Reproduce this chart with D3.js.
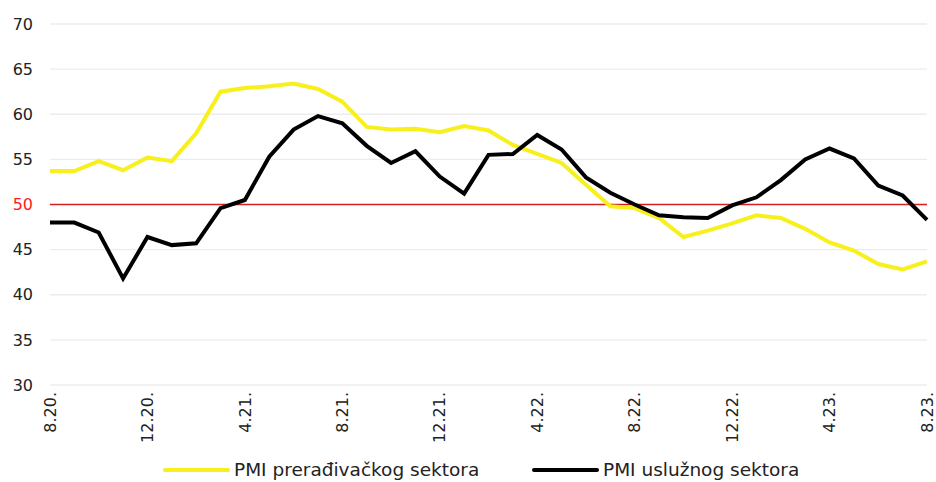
<!DOCTYPE html>
<html>
<head>
<meta charset="utf-8">
<script src="https://cdn.jsdelivr.net/npm/d3@7/dist/d3.min.js"></script>
<style>
  body { margin: 0; background: #fff; }
  svg text { font-family: "DejaVu Sans", sans-serif; fill: #222; }
</style>
</head>
<body>
<script>
var months = ['8.20.', '9.20.', '10.20.', '11.20.', '12.20.', '1.21.', '2.21.', '3.21.', '4.21.', '5.21.', '6.21.', '7.21.',
    '8.21.', '9.21.', '10.21.', '11.21.', '12.21.', '1.22.', '2.22.', '3.22.', '4.22.', '5.22.', '6.22.', '7.22.',
    '8.22.', '9.22.', '10.22.', '11.22.', '12.22.', '1.23.', '2.23.', '3.23.', '4.23.', '5.23.', '6.23.', '7.23.', '8.23.'];
var tickLabels = ['8.20.', '12.20.', '4.21.', '8.21.', '12.21.', '4.22.', '8.22.', '12.22.', '4.23.', '8.23.'];
var yTicks = [30, 35, 40, 45, 50, 55, 60, 65, 70];

var manufacturing = [53.7, 53.7, 54.8, 53.8, 55.2, 54.8, 57.9, 62.5, 62.9, 63.1, 63.4, 62.8,
    61.4, 58.6, 58.3, 58.4, 58.0, 58.7, 58.2, 56.6, 55.6, 54.6, 52.2, 49.8,
    49.6, 48.5, 46.4, 47.1, 47.9, 48.8, 48.5, 47.3, 45.8, 44.9, 43.4, 42.8, 43.7];
var services = [48.0, 48.0, 46.9, 41.8, 46.4, 45.5, 45.7, 49.6, 50.5, 55.3, 58.3, 59.8,
    59.0, 56.5, 54.6, 55.9, 53.1, 51.2, 55.5, 55.6, 57.7, 56.1, 53.0, 51.3,
    50.0, 48.8, 48.6, 48.5, 49.9, 50.8, 52.7, 55.0, 56.2, 55.1, 52.1, 51.0, 48.3];
var seriesNames = ['PMI prerađivačkog sektora', 'PMI uslužnog sektora'];
var seriesColors = ['#f7f01c', '#000000'];

var width = 936, height = 482;
var margin = { left: 50, right: 9, top: 24, bottom: 97 };

var svg = d3.select('body').append('svg').attr('width', width).attr('height', height);

var x = d3.scalePoint().domain(months).range([margin.left, width - margin.right]);
var y = d3.scaleLinear().domain([30, 70]).range([height - margin.bottom, margin.top]);

// grid
svg.append('g').selectAll('line').data(yTicks.filter(function(d) { return d !== 50; }))
    .enter().append('line')
    .attr('x1', margin.left).attr('x2', width - margin.right)
    .attr('y1', function(d) { return y(d); }).attr('y2', function(d) { return y(d); })
    .attr('stroke', '#ececec').attr('stroke-width', 1.3);

// y axis labels
var yAxis = d3.axisLeft(y).tickValues(yTicks).tickSize(0).tickPadding(0);
var yg = svg.append('g').attr('transform', 'translate(33,0)').call(yAxis);
yg.select('.domain').remove();
yg.selectAll('text').style('font-size', '16px')
    .style('fill', function(d) { return d === 50 ? '#ff1a1a' : '#222'; });

// x axis labels
var xAxis = d3.axisBottom(x).tickValues(tickLabels).tickSize(0).tickPadding(0);
var xg = svg.append('g').attr('transform', 'translate(0,' + (y(30) + 7) + ')').call(xAxis);
xg.select('.domain').remove();
xg.selectAll('text').style('font-size', '16px')
    .attr('text-anchor', 'end')
    .attr('transform', 'rotate(-90)')
    .attr('x', 0).attr('y', 0).attr('dx', 0).attr('dy', '0.32em');

// 50 line
svg.append('line')
    .attr('x1', margin.left).attr('x2', width - margin.right)
    .attr('y1', y(50)).attr('y2', y(50))
    .attr('stroke', '#d42020').attr('stroke-width', 1.5);

var line = d3.line()
    .x(function(d, i) { return x(months[i]); })
    .y(function(d) { return y(d); });

[manufacturing, services].forEach(function(s, k) {
    svg.append('path')
        .attr('d', line(s))
        .attr('fill', 'none')
        .attr('stroke', seriesColors[k])
        .attr('stroke-width', 4)
        .attr('stroke-linejoin', 'miter');
});

// legend
var legendX = [165, 534];
var lg = svg.append('g');
seriesNames.forEach(function(name, k) {
    lg.append('line')
        .attr('x1', legendX[k]).attr('x2', legendX[k] + 63)
        .attr('y1', 470).attr('y2', 470)
        .attr('stroke', seriesColors[k]).attr('stroke-width', 4)
        .attr('stroke-linecap', 'round');
    lg.append('text')
        .attr('x', legendX[k] + 69).attr('y', 470).attr('dy', '0.35em')
        .style('font-size', '18.5px')
        .text(name);
});
</script>
</body>
</html>
